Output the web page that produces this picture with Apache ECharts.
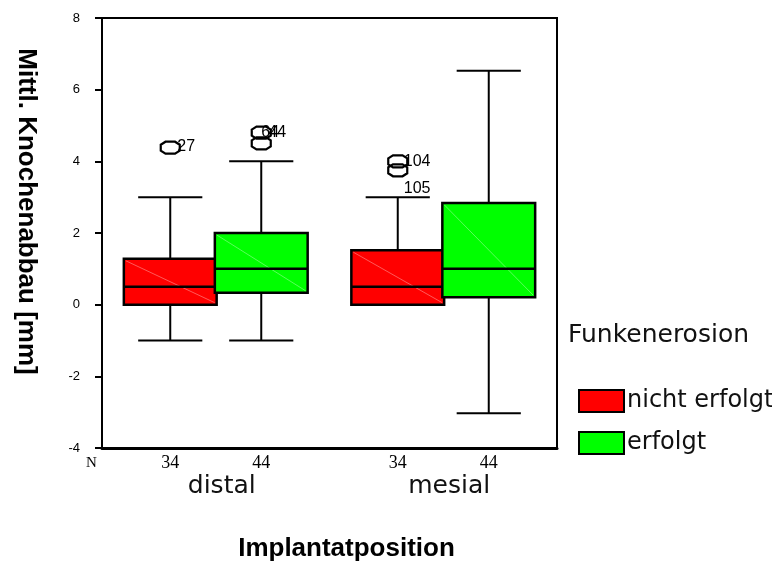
<!DOCTYPE html>
<html><head><meta charset="utf-8">
<script src="https://cdn.jsdelivr.net/npm/echarts@6/dist/echarts.min.js"></script>
<style>html,body{margin:0;padding:0;background:#fff}#c{width:772px;height:567px}</style>
</head><body><div id="c"></div>
<script>
// ---- data ----
const categories = ['distal', 'mesial'];
const groups = ['nicht erfolgt', 'erfolgt'];
const yMin = -4, yMax = 8, yInterval = 2;
// [min, q1, median, q3, max] per category
const statsNichtErfolgt = [[-1, 0, 0.5, 1.28, 3], [0, 0, 0.5, 1.52, 3]];
const statsErfolgt = [[-1, 0.33, 1, 2, 4], [-3.03, 0.21, 1, 2.84, 6.53]];
const countsNichtErfolgt = [34, 34];
const countsErfolgt = [44, 44];
// [category, value, case label]
const outliersNichtErfolgt = [['distal', 4.38, '27'], ['mesial', 4.0, '104'], ['mesial', 3.75, '105']];
const outliersErfolgt = [['distal', 4.8, '64'], ['distal', 4.5, '44']];
const groupColors = ['#ff0000', '#00ff00'];

// ---- layout (not data) ----
const BOX = { offsets: [-0.2, 0.2], width: 0.408, cap: 0.282 };
const LABEL_SHIFT = { '27': [7, -1], '104': [6, 0], '105': [6, 18], '64': [0, 0], '44': [7, -11] };

function boxRenderer(slot) {
  return function (params, api) {
    const cs = params.coordSys;
    const cat = api.value(0);
    const band = api.size([1, 0])[0];
    const cx = api.coord([cat, 0])[0] + BOX.offsets[slot] * band;
    const half = BOX.width * band / 2;
    const capHalf = BOX.cap * band / 2;
    const y = k => api.coord([cat, api.value(k)])[1];
    const yLo = y(1), yQ1 = y(2), yMed = y(3), yQ3 = y(4), yHi = y(5);
    const color = api.visual('color');
    const ls = { stroke: '#000', lineWidth: 2 };
    return {
      type: 'group',
      children: [
        { type: 'line', shape: { x1: cx, y1: yHi, x2: cx, y2: yQ3 }, style: ls },
        { type: 'line', shape: { x1: cx, y1: yQ1, x2: cx, y2: yLo }, style: ls },
        { type: 'line', shape: { x1: cx - capHalf, y1: yHi, x2: cx + capHalf, y2: yHi }, style: ls },
        { type: 'line', shape: { x1: cx - capHalf, y1: yLo, x2: cx + capHalf, y2: yLo }, style: ls },
        { type: 'rect', shape: { x: cx - half, y: yQ3, width: 2 * half, height: yQ1 - yQ3 },
          style: { fill: color, stroke: '#000', lineWidth: 2.5 } },
        { type: 'line', shape: { x1: cx - half + 2, y1: yQ3 + 2, x2: cx + half - 2, y2: yQ1 - 2 },
          style: { stroke: 'rgba(255,255,255,0.35)', lineWidth: 1 } },
        { type: 'line', shape: { x1: cx - half, y1: yMed, x2: cx + half, y2: yMed },
          style: { stroke: '#000', lineWidth: 2.5 } },
        { type: 'text', x: cx, y: cs.y + cs.height + 15,
          style: { text: String(api.value(6)), fontFamily: 'Liberation Serif', fontSize: 18,
                   fill: '#000', align: 'center', verticalAlign: 'middle' } }
      ]
    };
  };
}

function outlierRenderer(slot, list) {
  return function (params, api) {
    const cat = api.value(0);
    const band = api.size([1, 0])[0];
    const cx = api.coord([cat, 0])[0] + BOX.offsets[slot] * band;
    const cy = api.coord([cat, api.value(1)])[1];
    const w = 19, h = 12;
    const pts = [[-w/2, -h/4], [-w/4, -h/2], [w/4, -h/2], [w/2, -h/4], [w/2, h/4], [w/4, h/2], [-w/4, h/2], [-w/2, h/4]]
      .map(p => [cx + p[0], cy + p[1]]);
    const lab = list[params.dataIndex][2];
    const sh = LABEL_SHIFT[lab] || [7, 0];
    return {
      type: 'group',
      children: [
        { type: 'polygon', shape: { points: pts }, style: { fill: 'none', stroke: '#000', lineWidth: 2.2 } },
        { type: 'text', x: cx + sh[0], y: cy + sh[1],
          style: { text: lab, fontFamily: 'Liberation Sans', fontSize: 16, fill: '#000',
                   align: 'left', verticalAlign: 'middle' } }
      ]
    };
  };
}

const chart = echarts.init(document.getElementById('c'), null, { renderer: 'canvas' });
const boxData = (stats, counts) => categories.map((c, i) => [c].concat(stats[i]).concat([counts[i]]));

chart.setOption({
  backgroundColor: '#fff',
  animation: false,
  title: {
    text: 'Funkenerosion', left: 563, top: 318,
    textStyle: { fontFamily: 'DejaVu Sans', fontSize: 25, fontWeight: 'normal', color: '#111' }
  },
  legend: {
    orient: 'vertical', left: 573, top: 384, itemWidth: 45, itemHeight: 22, itemGap: 18,
    icon: 'rect', selectedMode: false,
    textStyle: { fontFamily: 'DejaVu Sans', fontSize: 24, color: '#111', padding: [0, 0, 0, -2] },
    data: groups.map((g, i) => ({ name: g, itemStyle: { color: groupColors[i], borderColor: '#000', borderWidth: 2 } }))
  },
  grid: { left: 102, right: 215, top: 18, bottom: 119, show: true, borderColor: '#000', borderWidth: 2, backgroundColor: 'transparent' },
  xAxis: {
    type: 'category', data: categories, boundaryGap: true,
    name: 'Implantatposition', nameLocation: 'middle', nameGap: 88,
    nameTextStyle: { fontFamily: 'Liberation Sans', fontSize: 26, fontWeight: 'bold', color: '#000', padding: [0, 0, 0, 34] },
    axisLine: { onZero: false, lineStyle: { color: '#000', width: 3 } },
    axisTick: { alignWithLabel: true, length: 5, lineStyle: { color: '#000', width: 2 } },
    axisLabel: { fontFamily: 'DejaVu Sans', fontSize: 25, color: '#111', margin: 26, padding: [0, 0, 0, 12] },
    splitLine: { show: false }
  },
  yAxis: {
    type: 'value', min: yMin, max: yMax, interval: yInterval,
    name: 'Mittl. Knochenabbau [mm]', nameLocation: 'middle', nameGap: 63, nameRotate: -90,
    nameTextStyle: { fontFamily: 'Liberation Sans', fontSize: 26, fontWeight: 'bold', color: '#000', padding: [0, 43, 0, 0] },
    axisLine: { show: true, lineStyle: { color: '#000', width: 2 } },
    axisTick: { show: true, length: 7, lineStyle: { color: '#000', width: 2 } },
    axisLabel: { fontFamily: 'Liberation Sans', fontSize: 13, color: '#000', margin: 22 },
    splitLine: { show: false }
  },
  graphic: [
    { type: 'text', left: 86, top: 456, style: { text: 'N', fontFamily: 'Liberation Serif', fontSize: 15, fill: '#000' } }
  ],
  series: [
    { type: 'custom', name: groups[0], clip: false, itemStyle: { color: groupColors[0] },
      encode: { x: 0, y: [1, 2, 3, 4, 5] },
      renderItem: boxRenderer(0), data: boxData(statsNichtErfolgt, countsNichtErfolgt) },
    { type: 'custom', name: groups[1], clip: false, itemStyle: { color: groupColors[1] },
      encode: { x: 0, y: [1, 2, 3, 4, 5] },
      renderItem: boxRenderer(1), data: boxData(statsErfolgt, countsErfolgt) },
    { type: 'custom', name: groups[0], clip: false, itemStyle: { color: groupColors[0] }, z: 3,
      renderItem: outlierRenderer(0, outliersNichtErfolgt), data: outliersNichtErfolgt },
    { type: 'custom', name: groups[1], clip: false, itemStyle: { color: groupColors[1] }, z: 3,
      renderItem: outlierRenderer(1, outliersErfolgt), data: outliersErfolgt }
  ]
});
</script></body></html>
